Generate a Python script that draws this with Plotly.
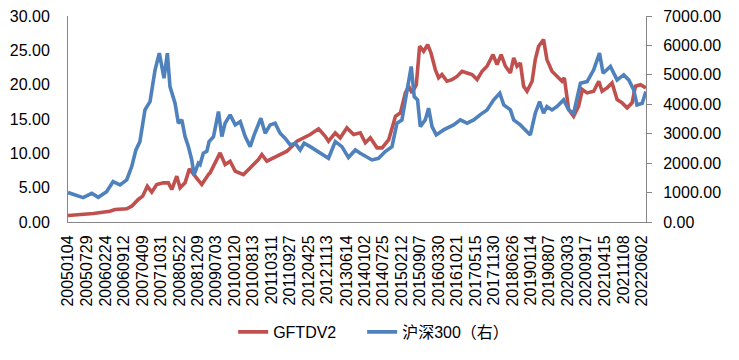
import plotly.graph_objects as go

# ---- data ----
tick_labels = ["20050104", "20050729", "20060224", "20060912", "20070409", "20071031",
               "20080522", "20081209", "20090703", "20100120", "20100813", "20110311",
               "20110927", "20120425", "20121113", "20130614", "20140102", "20140725",
               "20150212", "20150907", "20160330", "20161021", "20170515", "20171130",
               "20180626", "20190114", "20190807", "20200303", "20200917", "20210415",
               "20211108", "20220602"]

gftdv2_dates = ["2005-01-04", "2005-10-12", "2006-04-12", "2006-06-09", "2006-10-16", "2006-12-10",
                "2007-02-21", "2007-04-11", "2007-06-01", "2007-07-20", "2007-09-13", "2007-11-25",
                "2008-01-20", "2008-02-27", "2008-04-22", "2008-05-29", "2008-07-23", "2008-09-09",
                "2008-11-11", "2009-01-24", "2009-04-07", "2009-04-26", "2009-08-15", "2009-10-09",
                "2009-12-04", "2010-01-30", "2010-05-01", "2010-07-14", "2010-10-13", "2010-11-20",
                "2011-01-15", "2011-05-06", "2011-08-25", "2011-12-14", "2012-02-25", "2012-05-08",
                "2012-08-09", "2012-10-22", "2012-11-27", "2013-02-10", "2013-04-06", "2013-06-19",
                "2013-09-01", "2013-11-14", "2014-01-09", "2014-03-05", "2014-05-18", "2014-07-13",
                "2014-09-25", "2014-12-08", "2015-02-01", "2015-03-28", "2015-05-04", "2015-06-10",
                "2015-07-27", "2015-09-02", "2015-10-16", "2015-11-30", "2016-01-06", "2016-02-22",
                "2016-03-30", "2016-05-06", "2016-07-01", "2016-08-25", "2016-10-20", "2016-12-14",
                "2017-02-08", "2017-04-04", "2017-05-30", "2017-07-24", "2017-09-17", "2017-11-22",
                "2018-01-06", "2018-02-20", "2018-04-09", "2018-06-03", "2018-07-09", "2018-08-15",
                "2018-09-21", "2018-10-27", "2018-12-04", "2019-01-29", "2019-03-05", "2019-04-11",
                "2019-06-05", "2019-07-12", "2019-09-06", "2019-10-31", "2019-12-26", "2020-01-21",
                "2020-02-12", "2020-03-09", "2020-05-03", "2020-06-27", "2020-08-07", "2020-09-29",
                "2020-12-11", "2021-02-05", "2021-03-14", "2021-05-08", "2021-07-02", "2021-08-27",
                "2021-10-22", "2021-12-16", "2022-02-09", "2022-03-18", "2022-05-12", "2022-07-12"]
gftdv2_values = [0.95, 1.24, 1.57, 1.82, 1.92, 2.30,
                 3.28, 3.76, 5.20, 4.34, 5.46, 5.70,
                 5.70, 4.73, 6.67, 4.98, 5.70, 7.74,
                 6.67, 5.46, 6.91, 7.16, 10.07, 8.37,
                 8.85, 7.39, 6.91, 7.89, 9.10, 9.83,
                 8.85, 9.58, 10.31, 11.76, 12.26, 12.74,
                 13.57, 12.49, 11.76, 12.98, 12.26, 13.71,
                 12.74, 12.98, 11.53, 12.26, 10.80, 10.80,
                 12.00, 15.40, 15.90, 18.80, 19.77, 18.80,
                 20.00, 25.60, 24.86, 25.84, 24.62, 22.20,
                 20.99, 21.47, 20.50, 20.74, 21.20, 21.95,
                 21.70, 21.47, 20.74, 21.95, 22.68, 24.38,
                 22.93, 24.38, 22.68, 21.70, 23.90, 22.68,
                 23.17, 19.77, 19.04, 20.50, 23.65, 25.60,
                 26.56, 23.65, 21.95, 21.20, 20.50, 20.99,
                 18.80, 16.38, 15.40, 16.86, 19.28, 18.80,
                 19.04, 20.50, 19.04, 19.53, 20.26, 17.83,
                 17.35, 16.62, 17.35, 19.77, 20.00, 19.53]

hs300_dates = ["2005-01-04", "2005-06-20", "2005-09-24", "2005-12-05", "2006-03-07", "2006-05-18",
               "2006-08-03", "2006-10-16", "2006-12-10", "2007-01-26", "2007-03-11", "2007-05-06",
               "2007-07-01", "2007-08-26", "2007-10-12", "2007-12-03", "2008-01-09", "2008-02-07",
               "2008-04-03", "2008-05-10", "2008-06-17", "2008-07-23", "2008-08-29", "2008-10-05",
               "2008-10-31", "2008-12-17", "2009-01-05", "2009-02-10", "2009-03-21", "2009-04-15",
               "2009-06-03", "2009-07-28", "2009-09-03", "2009-10-09", "2009-12-04", "2010-01-30",
               "2010-03-26", "2010-05-20", "2010-07-14", "2010-08-27", "2010-11-09", "2010-12-27",
               "2011-02-20", "2011-04-16", "2011-06-10", "2011-08-04", "2011-09-30", "2011-11-24",
               "2012-01-18", "2012-03-02", "2012-05-08", "2012-07-02", "2012-09-15", "2012-11-27",
               "2013-02-10", "2013-04-24", "2013-07-06", "2013-09-20", "2013-11-14", "2014-01-27",
               "2014-03-23", "2014-06-04", "2014-08-17", "2014-10-31", "2014-12-25", "2015-02-18",
               "2015-04-14", "2015-06-01", "2015-07-04", "2015-08-10", "2015-09-09", "2015-11-03",
               "2015-12-10", "2016-01-17", "2016-03-04", "2016-05-24", "2016-09-12", "2016-11-25",
               "2017-02-08", "2017-04-22", "2017-07-05", "2017-09-17", "2017-11-30", "2018-02-05",
               "2018-03-21", "2018-06-03", "2018-07-09", "2018-09-21", "2018-11-15", "2019-01-09",
               "2019-03-05", "2019-04-22", "2019-06-05", "2019-07-12", "2019-09-06", "2019-10-31",
               "2020-01-13", "2020-03-09", "2020-05-03", "2020-07-17", "2020-09-29", "2020-12-11",
               "2021-02-13", "2021-03-25", "2021-06-14", "2021-08-27", "2021-11-09", "2022-01-03",
               "2022-02-27", "2022-04-04", "2022-06-01", "2022-07-12"]
hs300_values = [1000, 827, 976, 840, 1031, 1371,
                1259, 1429, 1881, 2449, 2731, 3810,
                4092, 5170, 5738, 4887, 5738, 4602,
                4036, 3357, 3469, 2902, 2561, 2109,
                1599, 1997, 1950, 2337, 2400, 2731,
                2902, 3752, 2902, 3357, 3639, 3299,
                3412, 2902, 2561, 2959, 3527, 3016,
                3299, 3357, 3016, 2846, 2619, 2676,
                2449, 2676, 2561, 2449, 2279, 2166,
                2731, 2561, 2190, 2449, 2337, 2222,
                2109, 2166, 2393, 2561, 3357, 3469,
                4490, 5283, 4262, 4150, 3243, 3469,
                3867, 3243, 2959, 3129, 3299, 3469,
                3357, 3469, 3650, 3810, 4150, 4377,
                3980, 3810, 3469, 3299, 3129, 2959,
                3696, 4092, 3696, 3923, 3810, 3923,
                4150, 3810, 3696, 4716, 4772, 5170,
                5738, 5056, 5283, 4829, 5000, 4829,
                4490, 3980, 4036, 4433]

tick_dates = [f"{s[:4]}-{s[4:6]}-{s[6:]}" for s in tick_labels]

FONT = "Liberation Sans, Arial, Noto Sans CJK SC, sans-serif"
AXIS_GRAY = "#868686"

fig = go.Figure()
fig.add_trace(go.Scatter(x=gftdv2_dates, y=gftdv2_values, name="GFTDV2", mode="lines",
                         line=dict(color="#C0504D", width=3.6), yaxis="y", legend="legend"))
fig.add_trace(go.Scatter(x=hs300_dates, y=hs300_values, name="沪深300（右）", mode="lines",
                         line=dict(color="#4F81BD", width=3.6), yaxis="y2", legend="legend2"))

legend_common = dict(orientation="h", xanchor="left", y=-0.534, yanchor="middle",
                     bgcolor="rgba(0,0,0,0)", itemwidth=30,
                     font=dict(family=FONT, size=16, color="black"))

# the page body has an 8px default margin, so the figure is 8px smaller than the window
fig.update_layout(
    width=731, height=352,
    margin=dict(l=60, r=93, t=8, b=138, autoexpand=False),
    paper_bgcolor="white", plot_bgcolor="white",
    font=dict(family=FONT, size=16, color="black"),
    showlegend=True,
    legend=dict(x=0.2857, **legend_common),
    legend2=dict(x=0.5089, **legend_common),
    xaxis=dict(type="date", range=["2005-01-04", "2022-07-13"], automargin=False,
               tickmode="array", tickvals=tick_dates, ticktext=tick_labels,
               tickangle=-90, showgrid=False, zeroline=False,
               showline=True, linecolor=AXIS_GRAY, linewidth=1, ticks="",
               ticklabelstandoff=6, ticklabeloverflow="allow",
               tickfont=dict(family=FONT, size=16, color="black")),
    yaxis=dict(range=[0, 30], dtick=5, tick0=0, tickformat=".2f", automargin=False,
               showgrid=False, zeroline=False, showline=True, linecolor=AXIS_GRAY,
               linewidth=1, ticks="", ticklabelstandoff=14, ticklabeloverflow="allow",
               tickfont=dict(family=FONT, size=16, color="black")),
    yaxis2=dict(range=[0, 7000], dtick=1000, tick0=0, tickformat=".2f", automargin=False,
                overlaying="y", side="right", showgrid=False, zeroline=False,
                showline=True, linecolor=AXIS_GRAY, linewidth=1,
                ticks="outside", ticklen=5, tickcolor=AXIS_GRAY, ticklabelstandoff=8,
                ticklabeloverflow="allow",
                tickfont=dict(family=FONT, size=16, color="black")),
)

fig.write_html("out.html")
